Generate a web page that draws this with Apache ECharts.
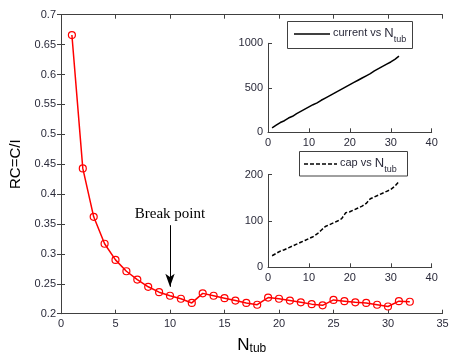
<!DOCTYPE html>
<html>
<head>
<meta charset="utf-8">
<script src="https://cdn.jsdelivr.net/npm/echarts@6/dist/echarts.min.js"></script>
<style>
  html, body { margin: 0; padding: 0; background: #fff; }
  #chart { width: 450px; height: 356px; }
</style>
</head>
<body>
<div id="chart"></div>
<script>
// main curve: RC = C/I per number of tubes
const nTub = [1,2,3,4,5,6,7,8,9,10,11,12,13,14,15,16,17,18,19,20,21,22,23,24,25,26,27,28,29,30,31,32];
const rc = [0.666,0.443,0.362,0.317,0.290,0.271,0.257,0.245,0.236,0.230,0.225,0.218,0.234,0.230,0.226,0.222,
            0.218,0.215,0.227,0.225,0.222,0.219,0.216,0.214,0.223,0.221,0.219,0.218,0.215,0.212,0.221,0.220];

// inset curves
const current = [50,80,110,130,160,180,210,235,260,285,310,330,360,385,410,435,
                 460,485,510,535,560,585,610,635,660,690,715,740,765,790,820,855];
const cap = [25,30,35,38,42,46,50,54,58,62,66,72,80,88,92,96,
             100,105,118,120,124,128,132,138,148,152,156,160,164,168,175,185];

// break point annotation (x, arrow top, arrow tip)
const breakX = 10;
const breakArrow = [0.348, 0.245];

const chart = echarts.init(document.getElementById('chart'));

const axisColor = '#404040';
const labelColor = '#2a2a3a';
const font = 'Liberation Sans';

function frameAxis(extra) {
  return Object.assign({
    axisLine: { show: true, lineStyle: { color: axisColor, width: 1 } },
    axisTick: { show: true, inside: true, length: 4, lineStyle: { color: axisColor } },
    axisLabel: { color: labelColor, fontSize: 11, fontFamily: font, margin: 5,
      formatter: v => String(v) },
    splitLine: { show: false }
  }, extra);
}

const option = {
  animation: false,
  backgroundColor: '#fff',
  grid: [
    { left: 61, right: 7.5, top: 14.7, bottom: 42.3, outerBoundsMode: 'none', containLabel: false },
    { left: 268, right: 18.3, top: 43.3, bottom: 223.7, outerBoundsMode: 'none', containLabel: false },
    { left: 268, right: 18.3, top: 174.7, bottom: 88.7, outerBoundsMode: 'none', containLabel: false }
  ],
  xAxis: [
    frameAxis({ gridIndex: 0, type: 'value', min: 0, max: 35, interval: 5,
      name: '{n|N}{s|tub}', nameLocation: 'middle', nameGap: 19,
      nameTextStyle: { rich: {
        n: { fontSize: 17, fontFamily: font, color: '#000', verticalAlign: 'top', lineHeight: 16 },
        s: { fontSize: 12, fontFamily: font, color: '#000', lineHeight: 13, padding: [8, 0, 0, 0] }
      } } }),
    frameAxis({ gridIndex: 0, type: 'value', min: 0, max: 35, interval: 5, position: 'top',
      axisLabel: { show: false } }),
    frameAxis({ gridIndex: 1, type: 'value', min: 0, max: 40, interval: 10 }),
    frameAxis({ gridIndex: 2, type: 'value', min: 0, max: 40, interval: 10 })
  ],
  yAxis: [
    frameAxis({ gridIndex: 0, type: 'value', min: 0.2, max: 0.7, interval: 0.05,
      name: 'RC=C/I', nameLocation: 'middle', nameGap: 37,
      nameTextStyle: { fontSize: 15, fontFamily: font, color: '#000' } }),
    frameAxis({ gridIndex: 0, type: 'value', min: 0.2, max: 0.7, interval: 0.05, position: 'right',
      axisLabel: { show: false } }),
    frameAxis({ gridIndex: 1, type: 'value', min: 0, max: 1000, interval: 500 }),
    frameAxis({ gridIndex: 2, type: 'value', min: 0, max: 200, interval: 100 })
  ],
  series: [
    {
      type: 'line', xAxisIndex: 0, yAxisIndex: 0,
      data: nTub.map((n, i) => [n, rc[i]]),
      lineStyle: { color: '#ff0000', width: 1.5 },
      symbol: 'circle', symbolSize: 7,
      itemStyle: { color: 'rgba(255,0,0,0)', borderColor: '#ff0000', borderWidth: 1.2 },
      z: 3,
      markLine: {
        silent: true,
        symbol: ['none', 'arrow'],
        symbolSize: [7, 13],
        lineStyle: { color: '#000', width: 1, type: 'solid' },
        itemStyle: { color: '#000' },
        label: { show: true, position: 'start', formatter: 'Break point',
          fontFamily: 'Liberation Serif', fontSize: 15, color: '#000', distance: 4 },
        data: [[ { coord: [breakX, breakArrow[0]] }, { coord: [breakX, breakArrow[1]] } ]]
      }
    },
    {
      type: 'line', xAxisIndex: 2, yAxisIndex: 2,
      data: nTub.map((n, i) => [n, current[i]]),
      lineStyle: { color: '#000', width: 1.5 },
      symbol: 'none'
    },
    {
      type: 'line', xAxisIndex: 3, yAxisIndex: 3,
      data: nTub.map((n, i) => [n, cap[i]]),
      lineStyle: { color: '#000', width: 1.5, type: [4, 2] },
      symbol: 'none'
    }
  ],
  graphic: [
    // legend of current inset
    { type: 'rect', shape: { x: 287.5, y: 21.5, width: 125, height: 27 },
      style: { fill: '#fff', stroke: axisColor, lineWidth: 1 }, z: 10 },
    { type: 'line', shape: { x1: 294, y1: 34, x2: 330, y2: 34 },
      style: { stroke: '#000', lineWidth: 1.5 }, z: 11 },
    { type: 'text', x: 333, y: 27, z: 11,
      style: { text: '{t|current vs }{n|N}{s|tub}', rich: {
        t: { fontSize: 11, fontFamily: font, fill: labelColor, verticalAlign: 'top', lineHeight: 14 },
        n: { fontSize: 13, fontFamily: font, fill: labelColor, verticalAlign: 'top', lineHeight: 14 },
        s: { fontSize: 9, fontFamily: font, fill: labelColor, padding: [8, 0, 0, 0] }
      } } },
    // legend of cap inset
    { type: 'rect', shape: { x: 299.5, y: 151.5, width: 108, height: 24.5 },
      style: { fill: '#fff', stroke: axisColor, lineWidth: 1 }, z: 10 },
    { type: 'line', shape: { x1: 304, y1: 164, x2: 337, y2: 164 },
      style: { stroke: '#000', lineWidth: 1.5, lineDash: [4, 2] }, z: 11 },
    { type: 'text', x: 340, y: 157, z: 11,
      style: { text: '{t|cap vs }{n|N}{s|tub}', rich: {
        t: { fontSize: 11, fontFamily: font, fill: labelColor, verticalAlign: 'top', lineHeight: 14 },
        n: { fontSize: 13, fontFamily: font, fill: labelColor, verticalAlign: 'top', lineHeight: 14 },
        s: { fontSize: 9, fontFamily: font, fill: labelColor, padding: [8, 0, 0, 0] }
      } } }
  ]
};

chart.setOption(option);
</script>
</body>
</html>
